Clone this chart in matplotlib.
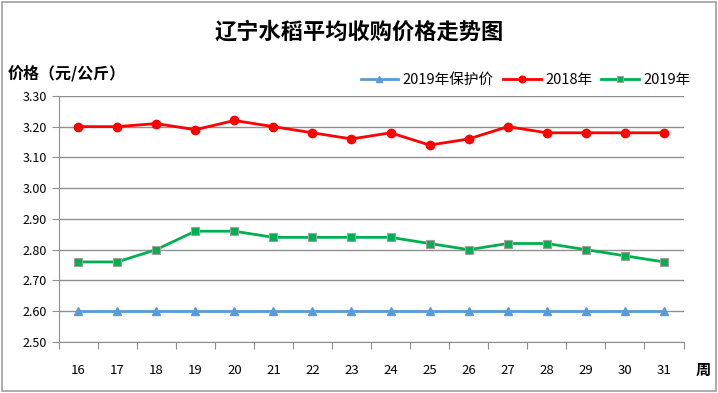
import numpy as np
import matplotlib.pyplot as plt
from matplotlib.patches import Rectangle

plt.rcParams['font.family'] = ['Noto Sans CJK SC', 'DejaVu Sans']

weeks = ['16', '17', '18', '19', '20', '21', '22', '23', '24', '25', '26', '27', '28', '29', '30', '31']
protect_2019 = [2.60] * 16
price_2018 = [3.20, 3.20, 3.21, 3.19, 3.22, 3.20, 3.18, 3.16, 3.18, 3.14, 3.16, 3.20, 3.18, 3.18, 3.18, 3.18]
price_2019 = [2.76, 2.76, 2.80, 2.86, 2.86, 2.84, 2.84, 2.84, 2.84, 2.82, 2.80, 2.82, 2.82, 2.80, 2.78, 2.76]

fig = plt.figure(figsize=(7.18, 3.93), dpi=100)
fig.patches.append(Rectangle((0.003, 0.005), 0.994, 0.99, transform=fig.transFigure,
                             fill=False, edgecolor='#a0a0a0', linewidth=1.2))
ax = fig.add_axes([0.0815, 0.130, 0.8705, 0.626])

x = np.arange(len(weeks))
ax.plot(x, protect_2019, color='#5b9bd5', marker='^', markersize=5.5, linewidth=2,
        label='2019年保护价')
ax.plot(x, price_2018, color='#ff0000', marker='o', markersize=6, linewidth=2,
        label='2018年')
ax.plot(x, price_2019, color='#00b050', marker='s', markersize=5.5, linewidth=2,
        markeredgecolor='#a0a0a0', markeredgewidth=0.8, label='2019年')

ax.set_xlim(-0.5, len(weeks) - 0.5)
ax.set_ylim(2.50, 3.30)
ax.set_yticks(np.arange(2.50, 3.31, 0.10))
ax.set_yticklabels(['%.2f' % v for v in np.arange(2.50, 3.31, 0.10)], fontsize=9)
ax.grid(axis='y', color='#909090', linewidth=1)
ax.set_axisbelow(True)

# category ticks between the labels
ax.set_xticks(np.arange(-0.5, len(weeks), 1.0))
ax.set_xticklabels([])
ax.set_xticks(x, minor=True)
ax.set_xticklabels(weeks, minor=True, fontsize=9.5)
ax.tick_params(axis='x', which='minor', length=0, pad=16)
ax.tick_params(axis='x', which='major', length=5, color='#909090')
ax.tick_params(axis='y', length=5, color='#909090')

for s in ['top', 'right']:
    ax.spines[s].set_visible(False)
for s in ['left', 'bottom']:
    ax.spines[s].set_color('#909090')

fig.text(0.5, 0.918, '辽宁水稻平均收购价格走势图', ha='center', va='center',
         fontsize=16, fontweight='bold')
fig.text(0.011, 0.813, '价格（元/公斤）', ha='left', va='center', fontsize=11.5,
         fontweight='bold')
fig.text(0.98, 0.058, '周', ha='center', va='center', fontsize=11, fontweight='bold')

ax.legend(loc='lower right', bbox_to_anchor=(1.025, 1.0), ncol=3, frameon=False,
          fontsize=10.5, handlelength=2.6, columnspacing=0.6, handletextpad=0.3,
          borderaxespad=0.2, markerscale=0.8)

fig.savefig('out.png', dpi=100)
